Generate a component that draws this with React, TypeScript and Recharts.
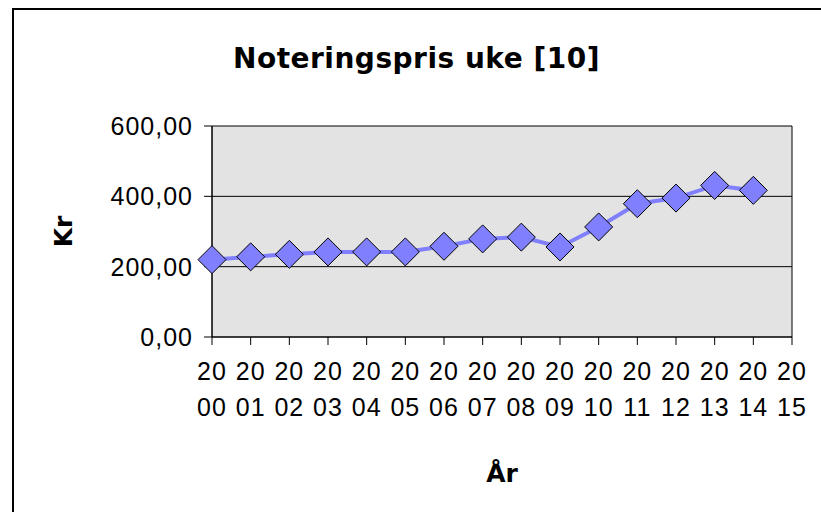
import React from "react";
import { LineChart, Line, CartesianGrid, XAxis, YAxis, Label } from "recharts";

const years = [
  "2000", "2001", "2002", "2003", "2004", "2005", "2006", "2007",
  "2008", "2009", "2010", "2011", "2012", "2013", "2014", "2015",
];
const prices: (number | null)[] = [
  220, 228, 235, 242, 242, 242, 258, 279, 284, 256, 313, 379, 395, 431, 417, null,
];
const yTicks = [0, 200, 400, 600];

const data = years.map((year, i) => ({ year, price: prices[i] }));

const axisFont = "'Liberation Sans', Arial, sans-serif";
const boldFont = "'DejaVu Sans', Verdana, sans-serif";

const Diamond = (props: any) => {
  const { cx, cy, index, value } = props;
  if (cx == null || cy == null || value == null) return <g key={index} />;
  const r = 14;
  return (
    <polygon
      key={index}
      points={`${cx},${cy - r} ${cx + r},${cy} ${cx},${cy + r} ${cx - r},${cy}`}
      fill="#8080ff"
      stroke="#000"
      strokeWidth={1}
    />
  );
};

const YearTick = ({ x, y, payload }: any) => {
  const v = String(payload.value);
  return (
    <text textAnchor="middle" fontFamily={axisFont} fontSize={25} fill="#000" letterSpacing={1}>
      <tspan x={x} y={y + 35}>{v.slice(0, 2)}</tspan>
      <tspan x={x} y={y + 71}>{v.slice(2)}</tspan>
    </text>
  );
};

export default function App() {
  return (
    // fixed so the chart border can run off the right and bottom edges without scrollbars
    <div
      style={{
        position: "fixed",
        left: 12,
        top: 8,
        width: 807,
        height: 502,
        borderTop: "2px solid #000",
        borderLeft: "2px solid #000",
        background: "#fff",
        overflow: "hidden",
      }}
    >
      <div
        style={{
          position: "absolute",
          left: 0,
          top: 35,
          width: 805,
          textAlign: "center",
          fontFamily: boldFont,
          fontWeight: "bold",
          fontSize: 28,
          lineHeight: "28px",
          letterSpacing: 0.5,
        }}
      >
        Noteringspris uke [10]
      </div>
      <LineChart
        width={807}
        height={494}
        data={data}
        style={{ outline: "none" }}
        margin={{ top: 116, right: 29, bottom: 0, left: 0 }}
      >
        <CartesianGrid
          fill="#e3e3e3"
          fillOpacity={1}
          stroke="#000"
          strokeWidth={1}
          verticalCoordinatesGenerator={({ offset }: any) => [offset.left, offset.left + offset.width]}
        />
        <XAxis
          dataKey="year"
          height={167}
          interval={0}
          tickSize={8}
          tickMargin={0}
          axisLine={{ stroke: "#000" }}
          tickLine={{ stroke: "#000" }}
          tick={<YearTick />}
        >
          <Label
            content={({ viewBox }: any) => (
              <text
                x={viewBox.x + viewBox.width / 2}
                y={viewBox.y + 145}
                textAnchor="middle"
                fontFamily={boldFont}
                fontWeight="bold"
                fontSize={25}
                fill="#000"
              >
                År
              </text>
            )}
          />
        </XAxis>
        <YAxis
          width={198}
          domain={[0, 600]}
          ticks={yTicks}
          interval={0}
          tickSize={8}
          tickMargin={11}
          axisLine={{ stroke: "#000" }}
          tickLine={{ stroke: "#000" }}
          tick={{ fill: "#000", fontFamily: axisFont, fontSize: 25, letterSpacing: 1 }}
          tickFormatter={(v: number) => v.toFixed(2).replace(".", ",")}
        >
          <Label
            content={({ viewBox }: any) => {
              const cx = viewBox.x + 58;
              const cy = viewBox.y + viewBox.height / 2;
              return (
                <text
                  x={cx}
                  y={cy}
                  transform={`rotate(-90 ${cx} ${cy})`}
                  textAnchor="middle"
                  fontFamily={boldFont}
                  fontWeight="bold"
                  fontSize={25}
                  fill="#000"
                >
                  Kr
                </text>
              );
            }}
          />
        </YAxis>
        <Line
          type="linear"
          dataKey="price"
          stroke="#8080ff"
          strokeWidth={4}
          dot={<Diamond />}
          activeDot={false}
          isAnimationActive={false}
        />
      </LineChart>
    </div>
  );
}
